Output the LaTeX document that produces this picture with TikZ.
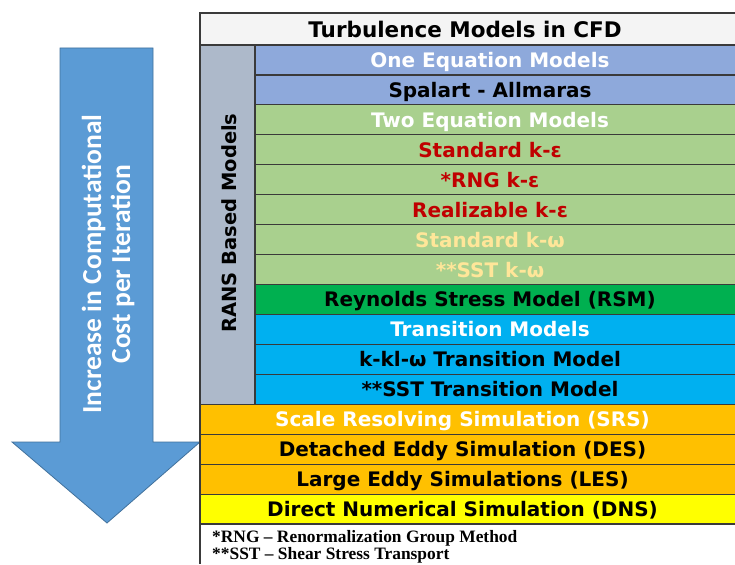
\documentclass[tikz,border=0pt]{standalone}
\usepackage{fontspec}
\setmainfont{DejaVu Sans}
\newfontfamily\arrowfont{Carlito}
\newfontfamily\notefont{Liberation Serif}
\definecolor{titlefill}{HTML}{F4F4F4}
\definecolor{onefill}{HTML}{8EA9DB}
\definecolor{twofill}{HTML}{A9D08E}
\definecolor{rsmfill}{HTML}{00B050}
\definecolor{transfill}{HTML}{00B0F0}
\definecolor{srsfill}{HTML}{FFC000}
\definecolor{dnsfill}{HTML}{FFFF00}
\definecolor{ransfill}{HTML}{ADB9CA}
\definecolor{redtxt}{HTML}{C00000}
\definecolor{yeltxt}{HTML}{FFE699}
\definecolor{arrowfill}{HTML}{5B9BD5}
\definecolor{arrowline}{HTML}{41719C}
\definecolor{gridline}{HTML}{3A3A3A}
\tikzset{
  cellbox/.style={draw=gridline, line width=1.2pt},
  rowtext/.style={anchor=base, inner sep=0pt, font=\fontsize{20}{24}\selectfont\bfseries},
  bigarrow/.style={fill=arrowfill, draw=arrowline, line width=0.8pt},
  notetext/.style={anchor=base west, inner sep=0pt, font=\notefont\fontsize{17.4}{20}\selectfont\bfseries},
}
\begin{document}
\begin{tikzpicture}[x=1pt,y=-1pt]
\useasboundingbox (0,0) rectangle (735,564);
\clip (0,0) rectangle (735,564);
\fill[white] (0,0) rectangle (735,564);
% arrow
\draw[bigarrow] (60,48) -- (153,48) -- (153,442) -- (200,442) -- (107,523) -- (12,442) -- (60,442) -- cycle;
\node[rotate=90, align=center, text=white, inner sep=0pt,
  font=\arrowfont\fontsize{27.5}{29}\selectfont\bfseries] (arrowtxt) at (108,264)
  {Increase in Computational\\Cost per Iteration};
% title row
\draw[cellbox, fill=titlefill] (200,13) rectangle (745,45);
\node[rowtext, font=\fontsize{21.5}{24}\selectfont\bfseries] (title) at (465,37.5) {Turbulence Models in CFD};
% RANS column
\draw[cellbox, fill=ransfill] (200,45) rectangle (255,404.3);
\node[rotate=90, inner sep=0pt, font=\fontsize{19.5}{24}\selectfont\bfseries] (rans) at (229,223) {RANS Based Models};
% rows
\foreach \i/\fc/\tc/\lx/\txt in {
  1/onefill/white/255/One Equation Models,
  2/onefill/black/255/Spalart - Allmaras,
  3/twofill/white/255/Two Equation Models,
  4/twofill/redtxt/255/Standard k-ε,
  5/twofill/redtxt/255/*RNG k-ε,
  6/twofill/redtxt/255/Realizable k-ε,
  7/twofill/yeltxt/255/Standard k-ω,
  8/twofill/yeltxt/255/**SST k-ω,
  9/rsmfill/black/255/Reynolds Stress Model (RSM),
  10/transfill/white/255/Transition Models,
  11/transfill/black/255/k-kl-ω Transition Model,
  12/transfill/black/255/**SST Transition Model,
  13/srsfill/white/200/Scale Resolving Simulation (SRS),
  14/srsfill/black/200/Detached Eddy Simulation (DES),
  15/srsfill/black/200/Large Eddy Simulations (LES),
  16/dnsfill/black/200/Direct Numerical Simulation (DNS)}{
  \pgfmathsetmacro{\ytop}{45+29.94*(\i-1)}
  \pgfmathsetmacro{\ybot}{\ytop+29.94}
  \pgfmathsetmacro{\ybase}{\ytop+14.97+7.5}
  \pgfmathsetmacro{\xc}{(\lx+735)/2-5}
  \draw[cellbox, fill=\fc] (\lx,\ytop) rectangle (745,\ybot);
  \node[rowtext, text=\tc] (row\i) at (\xc,\ybase) {\txt};
}
% outer left border down to bottom
\draw[draw=gridline, line width=1.2pt] (200,13) -- (200,564);
% footnotes
\node[notetext] (note1) at (212,542) {*RNG – Renormalization Group Method};
\node[notetext] (note2) at (212,559.5) {**SST – Shear Stress Transport};
\end{tikzpicture}
\end{document}
